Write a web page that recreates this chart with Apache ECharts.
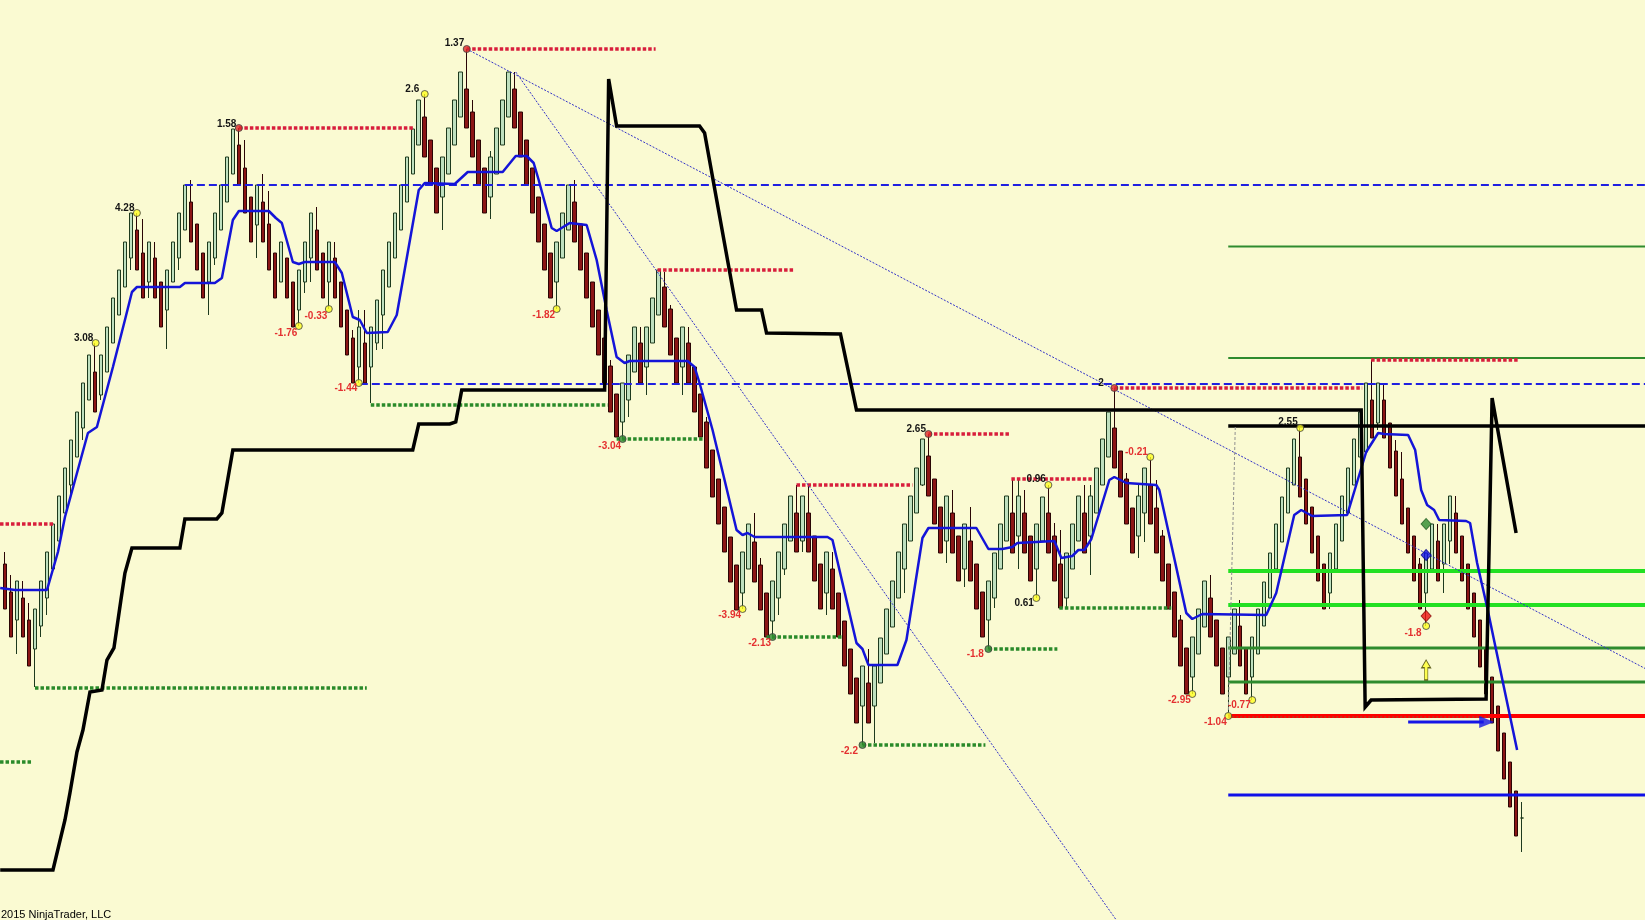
<!DOCTYPE html>
<html><head><meta charset="utf-8">
<script src="https://cdn.jsdelivr.net/npm/echarts@6/dist/echarts.min.js"></script>
<style>html,body{margin:0;padding:0;background:#FAFAD2;overflow:hidden}#c{width:1645px;height:920px}</style>
</head><body><div id="c"></div>
<script>
// ---- candle data (price units) ----
const opens = [436,408,380,402,380,351,374,402,431,459,487,515,543,572,600,628,605,628,657,685,713,742,770,747,718,742,718,690,718,742,770,798,776,747,718,742,770,798,826,855,832,803,775,798,776,747,718,742,718,690,718,742,770,747,718,742,718,690,662,633,657,633,657,685,713,742,770,798,826,855,883,860,832,803,826,855,883,911,888,860,832,803,826,855,883,911,888,860,832,803,776,747,718,742,770,798,776,747,718,690,662,634,606,578,600,628,657,633,657,685,713,691,662,633,657,633,606,578,550,521,493,463,435,407,431,458,435,407,379,402,431,459,487,459,487,464,436,407,431,407,379,351,322,294,317,294,317,346,373,402,431,459,487,515,544,521,493,459,487,464,431,459,436,408,380,402,431,459,487,464,487,464,431,459,487,464,436,402,431,459,487,464,487,515,543,572,549,521,492,464,487,515,492,464,436,408,380,352,323,346,373,402,380,352,323,346,374,352,323,346,374,402,431,458,487,515,543,521,493,464,436,407,431,459,487,515,543,548,600,577,600,577,549,521,492,464,436,407,431,459,436,459,487,464,436,407,380,352,323,294,267,238,209,182];
const closes = [391,363,419,363,334,391,419,448,476,504,532,560,588,617,645,588,645,673,702,730,758,787,730,702,758,702,673,730,758,787,815,758,730,702,758,787,815,843,871,815,787,758,815,758,730,702,758,702,673,730,758,787,730,702,758,702,673,645,617,673,617,673,700,730,758,787,815,843,871,900,843,815,787,843,872,900,928,872,843,815,787,843,872,900,928,872,843,815,787,758,730,702,758,787,815,758,730,702,673,645,617,588,563,617,645,673,617,673,702,730,673,645,617,673,617,588,563,532,503,476,448,418,390,448,476,418,390,363,419,448,476,504,448,504,448,419,391,448,391,363,334,306,277,334,277,334,362,391,419,448,476,504,532,561,504,476,447,504,447,419,476,419,391,363,419,447,476,504,447,504,447,419,476,503,447,419,392,447,476,504,447,504,532,561,588,532,503,476,447,504,532,476,447,419,391,363,334,306,363,391,419,363,334,306,363,391,334,306,363,391,418,447,476,503,532,561,503,476,447,419,391,447,476,504,532,561,588,617,562,617,562,532,504,476,447,419,391,447,476,419,476,504,447,419,391,363,333,306,277,249,221,193,164,182];
const lows = [391,363,346,363,334,313,363,385,431,459,487,503,543,560,600,588,600,628,657,685,713,730,730,702,702,702,673,651,718,730,770,758,730,702,685,735,770,798,826,815,787,758,742,758,730,702,718,702,673,674,707,718,730,702,691,702,673,645,617,617,617,597,650,651,713,742,770,798,826,855,843,815,787,770,826,855,883,872,843,815,787,781,826,855,883,872,843,815,787,758,730,702,691,742,770,758,730,702,673,645,617,588,563,561,583,628,617,605,657,685,673,645,617,605,617,588,563,532,503,476,448,418,390,391,431,418,390,363,363,385,425,459,448,448,448,419,391,385,391,363,334,306,277,255,277,257,317,346,373,402,407,459,487,514,504,476,447,437,447,419,413,419,391,363,351,392,431,459,447,431,447,419,402,459,447,419,392,392,431,459,447,425,487,515,543,532,503,476,447,442,458,476,447,419,391,363,334,306,306,346,373,363,334,306,284,346,334,306,300,346,374,402,431,458,487,515,503,476,447,419,391,391,431,459,487,515,543,548,562,570,562,532,504,476,447,419,391,374,431,419,407,436,447,419,391,363,333,306,277,249,221,193,164,148];
const highs = [448,425,419,419,397,391,419,448,476,504,532,560,588,617,645,657,645,673,702,730,758,787,787,781,758,758,718,730,758,787,815,820,776,747,758,787,815,843,871,872,860,803,815,826,809,747,758,742,718,730,758,787,793,747,758,758,718,690,670,690,690,673,700,730,758,787,815,843,871,900,906,860,832,843,872,900,928,951,900,860,832,849,872,900,928,928,888,860,832,803,776,747,758,787,815,820,776,747,718,690,662,640,606,617,645,673,673,673,702,730,728,695,662,673,673,633,606,583,550,521,493,463,435,448,476,487,442,407,419,448,476,504,515,504,515,464,436,448,448,407,379,351,322,334,351,334,362,391,419,448,476,504,532,561,566,521,493,504,510,464,476,493,436,408,419,447,476,504,521,521,510,464,476,503,515,477,470,447,476,504,515,515,532,561,588,612,549,527,492,515,532,543,520,470,436,408,385,352,363,391,419,425,380,352,363,391,400,352,363,391,418,447,476,503,532,561,572,521,493,464,436,447,476,504,532,561,588,617,640,617,617,577,560,548,492,464,442,447,476,476,476,504,504,464,436,407,380,352,323,294,267,238,209,198];

// ---- indicator lines [bar index, price] ----
const maLine = [[-0.8,412],[1.67,410],[7,410],[8.83,448],[10,483],[13.83,567],[15.33,573],[18,633],[20,680],[21.17,708],[22,713],[29.17,713],[30,717],[35,717],[36.17,722],[38,780],[39,789],[44,789],[45.17,782],[46.17,777],[48,738],[49,736],[50,738],[55,738],[56.17,727],[58,683],[59.17,680],[60.33,667],[63.83,668],[65.33,685],[69,810],[70,817],[75,816],[77.17,828],[83,828],[85.17,844],[87,844],[88.17,837],[89,820],[91.17,772],[92,769],[94.17,777],[97,775],[98.67,740],[100.33,690],[102,643],[103.33,637],[104.17,639],[113.83,639],[115,633],[115.83,617],[118,570],[122,470],[123,465],[123.83,467],[125,463],[137.17,463],[138,460],[142,357],[143,351],[144,335],[148.83,335],[150.33,360],[153,462],[154,472],[162,472],[164,451],[166.33,451],[168,453],[168.83,457],[175,459],[176.17,442],[178,444],[179,450],[180,450],[181.17,461],[184.17,520],[185,523],[187,517],[192,515],[192.5,510],[197,387],[198,381],[199.67,386],[210.33,385],[212,407],[215,485],[216.17,490],[218,484],[223.83,485],[227,548],[229,567],[230,566],[234,565],[235.17,550],[236.17,510],[237.17,495],[238.33,490],[239.17,480],[243.67,479],[244.33,477],[245.5,437],[247.17,393],[248.67,350],[252.17,250]];
const stopLine = [[-0.8,130],[8,130],[10,180],[10.83,207],[12,248],[13,270],[14.17,308],[16.17,310],[17,340],[18.17,352],[19.33,400],[20,427],[21.17,452],[29.17,452],[30,481],[35.33,481],[36.17,487],[38,550],[68,550],[69,576],[74.17,576],[75.17,578],[76.17,610],[100,610],[100.67,921],[102,874],[115.83,874],[116.67,867],[122,690],[126.17,690],[127,667],[139.33,666],[142,590],[226.17,590],[226.83,293],[227.83,300],[247,301],[248,602],[252,467]];

// ---- levels: [startIdx, endIdx, price] ----
const resistance = [[-0.83,8.33,476],[39,68.33,872],[77,108.5,951],[108.83,131.5,730],[132,151.33,515],[154,167.5,566],[167.83,181.33,521],[185,226.33,612],[227.83,252.5,640]];
const support = [[-0.83,4.5,238],[5,60.33,312],[61,100.5,595],[102,116.33,561],[127,139.5,363],[143,163.5,255],[164,175.5,351],[175.83,194.5,392]];
const dashedLevels = [[30,274,815],[59.17,274,616]];
// right-side price levels: price, colour, width
const rightLevels = [[753.5,'#2E8B2E',2],[642,'#2E8B2E',2],[574,'#000000',3.5],[429,'#22E022',4],[395,'#22E022',4],[352,'#2E8B2E',3],[318,'#2E8B2E',3],[284,'#FF0000',4],[205,'#1010E8',3]];
const trendLines = [[[77,951],[274,330]],[[85.17,928],[187.1,65]]];

// ---- swing labels: [text, idx, price] (anchor = right end of text) ----
const highLabels = [['4.28',21.67,792],['3.08',14.83,662],['1.58',38.67,876],['2.6',69.17,911],['1.37',76.67,957],['2.65',153.67,571],['0.96',173.67,521],['2',183.33,617],['2.55',215.67,578],['0.61',171.67,397]];
const lowLabels = [['-1.76',48.83,667],['-0.33',53.83,684],['-1.44',58.83,612],['-1.82',91.83,685],['-3.04',102.83,554],['-3.94',122.83,385],['-2.13',127.83,357],['-2.2',142.33,249],['-1.8',163.33,346],['-0.21',190.67,548],['-2.95',197.83,300],['-0.77',207.83,295],['-1.04',203.83,278],['-1.8',236.33,367]];
const yellowDots = [[22,787],[15.12,657],[70,906],[49,674],[54,691],[59,617],[92,691],[123,391],[174,515],[172,402],[191,543],[198,306],[208,300],[216,572],[204,284],[237,374]];
const redDots = [[39,872],[77,951],[154,566],[185,612],[-0.83,476]];
const greenDots = [[103,561],[128,363],[143,255],[164,351]];

const categories = [];
for (let i = 0; i < 274; i++) categories.push(String(i + 1));
const candleData = categories.map((c, i) => i < opens.length ? [opens[i], closes[i], lows[i], highs[i]] : '-');

const series = [];
series.push({type:'candlestick', xAxisIndex:0, yAxisIndex:0, data:candleData, barWidth:4, z:2,
  itemStyle:{color:'#BFE0BF', color0:'#8B1515', borderColor:'#1E3A1E', borderColor0:'#2A0505', borderWidth:1}});

function line(data, color, width, type, z, extra) {
  series.push(Object.assign({type:'line', xAxisIndex:1, yAxisIndex:0, data:data, symbol:'none', silent:true, z:z,
    lineStyle:{color:color, width:width, type:type, cap:'butt'}}, extra || {}));
}
rightLevels.forEach(l => line([[204,l[0]],[274,l[0]]], l[1], l[2], 'solid', 3));
line([[204,283],[248,283]], '#806030', 1, [2,2], 3);
dashedLevels.forEach(l => line([[l[0],l[2]],[l[1],l[2]]], '#2020E0', 2, [8,4], 3));
resistance.forEach(l => line([[l[0],l[2]],[l[1],l[2]]], '#D81E3C', 3.5, [3.5,2], 4));
support.forEach(l => line([[l[0],l[2]],[l[1],l[2]]], '#2A8A2A', 3.5, [3.5,2], 4));
trendLines.forEach(t => line(t, '#3030C8', 1, [2,1.5], 4));
line([[205.17,573],[204,284]], '#909090', 1, [3,2], 4);
line(maLine, '#1414D8', 2.5, 'solid', 5);
line(stopLine, '#000000', 3.5, 'solid', 6, {lineStyle:{color:'#000', width:3.5, join:'miter'}});
// blue arrow
line([[234,278],[246.6,278]], '#1515E6', 3, 'solid', 7);
series.push({type:'scatter', xAxisIndex:1, data:[[247.1,278]], symbol:'triangle', symbolRotate:-90, symbolSize:[12,15], z:7, silent:true, itemStyle:{color:'#1515E6'}});

function dots(data, color) {
  series.push({type:'scatter', xAxisIndex:1, data:data, symbolSize:7, z:8, silent:true,
    itemStyle:{color:color, borderColor:'#404040', borderWidth:1}});
}
dots(yellowDots, '#FFFF20');
dots(redDots, '#E02828');
dots(greenDots, '#2E8B2E');
series.push({type:'scatter', xAxisIndex:1, data:[[237,476]], symbol:'diamond', symbolSize:[10,11], z:8, itemStyle:{color:'#2E8B2E', borderColor:'#1E5A1E', borderWidth:1}});
series.push({type:'scatter', xAxisIndex:1, data:[[237,445]], symbol:'diamond', symbolSize:[10,11], z:8, itemStyle:{color:'#1010E8', borderColor:'#000080', borderWidth:1}});
series.push({type:'scatter', xAxisIndex:1, data:[[237,384]], symbol:'diamond', symbolSize:[10,11], z:8, itemStyle:{color:'#F01010', borderColor:'#800000', borderWidth:1}});
series.push({type:'scatter', xAxisIndex:1, data:[[237,330]], symbol:'path://M4,0 L8,5 L5.5,5 L5.5,13 L2.5,13 L2.5,5 L0,5 Z', symbolSize:[9,20], z:8, itemStyle:{color:'#FFFF30', borderColor:'#404000', borderWidth:1}});

function labels(arr, color) {
  series.push({type:'scatter', xAxisIndex:1, symbolSize:1, z:9, silent:true,
    itemStyle:{color:'rgba(0,0,0,0)'},
    data: arr.map(a => ({value:[a[1], a[2]], name:a[0]})),
    label:{show:true, position:'left', distance:0, formatter:p => p.name, color:color, opacity:1,
      fontFamily:'Liberation Sans', fontWeight:'bold', fontSize:10}});
}
labels(highLabels, '#141414');
labels(lowLabels, '#E43030');

const chart = echarts.init(document.getElementById('c'));
chart.setOption({
  animation:false,
  backgroundColor:'#FAFAD2',
  grid:{left:2, top:0, width:1644, height:920},
  xAxis:[{type:'category', data:categories, show:false, boundaryGap:true},
         {type:'value', min:-0.5, max:273.5, show:false}],
  yAxis:[{type:'value', min:80, max:1000, show:false, scale:true}],
  graphic:[{type:'text', left:1, top:909, z:100,
    style:{text:'2015 NinjaTrader, LLC', font:'11px "Liberation Sans"', fill:'#000'}}],
  series:series
});
</script></body></html>
